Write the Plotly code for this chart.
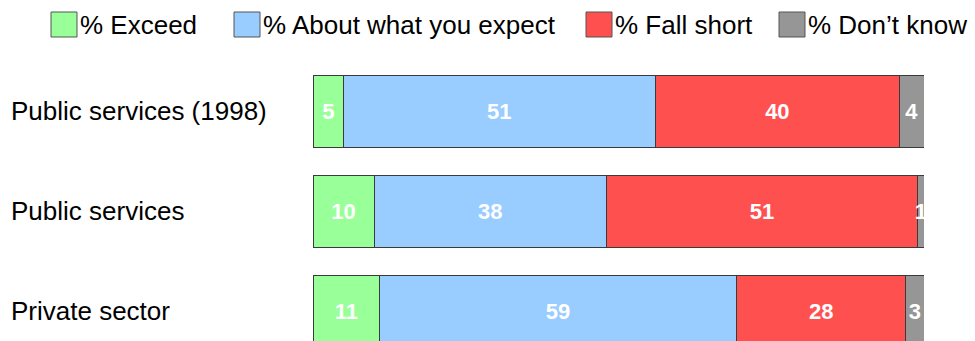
import plotly.graph_objects as go

categories = ["Public services (1998)", "Public services", "Private sector"]
series_names = ["% Exceed", "% About what you expect", "% Fall short", "% Don\u2019t know"]
exceed = [5, 10, 11]
about = [51, 38, 59]
fall_short = [40, 51, 28]
dont_know = [4, 1, 3]
series_values = [exceed, about, fall_short, dont_know]
colors = ["#99FF99", "#99CCFF", "#FF5050", "#969696"]

W, H = 975, 341
L, R, T, B = 313, 51, 61, 0
PW, PH = W - L - R, H - T - B
FONT = "Liberation Sans, Arial, sans-serif"


def px_x(x):
    return (x - L) / PW


def px_y(y):
    return 1 - (y - T) / PH


fig = go.Figure()
for name, vals, col in zip(series_names, series_values, colors):
    fig.add_trace(go.Bar(
        y=categories, x=vals, name=name, orientation="h",
        marker=dict(color=col, line=dict(color="#3a3a3a", width=1)),
        text=[str(v) for v in vals], textposition="inside",
        insidetextanchor="middle", constraintext="none",
        textfont=dict(family=FONT, size=22, color="white", weight="bold"),
        showlegend=False, hoverinfo="skip",
    ))

# category labels (left aligned)
for c in categories:
    fig.add_annotation(x=px_x(9), xref="paper", y=c, yref="y", text=c,
                       xanchor="left", yanchor="middle", showarrow=False,
                       font=dict(family=FONT, size=26, color="black"))

# custom legend
legend_text_x = [82, 265, 617, 810]
for name, col, tx in zip(series_names, colors, legend_text_x):
    fig.add_shape(type="rect", xref="paper", yref="paper",
                  x0=px_x(tx - 31), x1=px_x(tx - 5), y0=px_y(12), y1=px_y(37),
                  fillcolor=col, line=dict(color="#555555", width=1))
    fig.add_annotation(x=px_x(tx - 4), xref="paper", y=px_y(25), yref="paper",
                       text=name, xanchor="left", yanchor="middle", showarrow=False,
                       font=dict(family=FONT, size=26, color="black"))

fig.update_layout(
    width=W, height=H, barmode="stack", barnorm="percent", bargap=0.28,
    margin=dict(l=L, r=R, t=T, b=B, pad=0),
    paper_bgcolor="white", plot_bgcolor="white",
    xaxis=dict(range=[0, 100], visible=False),
    yaxis=dict(range=[2.3, -0.5], visible=False, type="category"),
    font=dict(family=FONT),
)
fig.write_html("out.html")
